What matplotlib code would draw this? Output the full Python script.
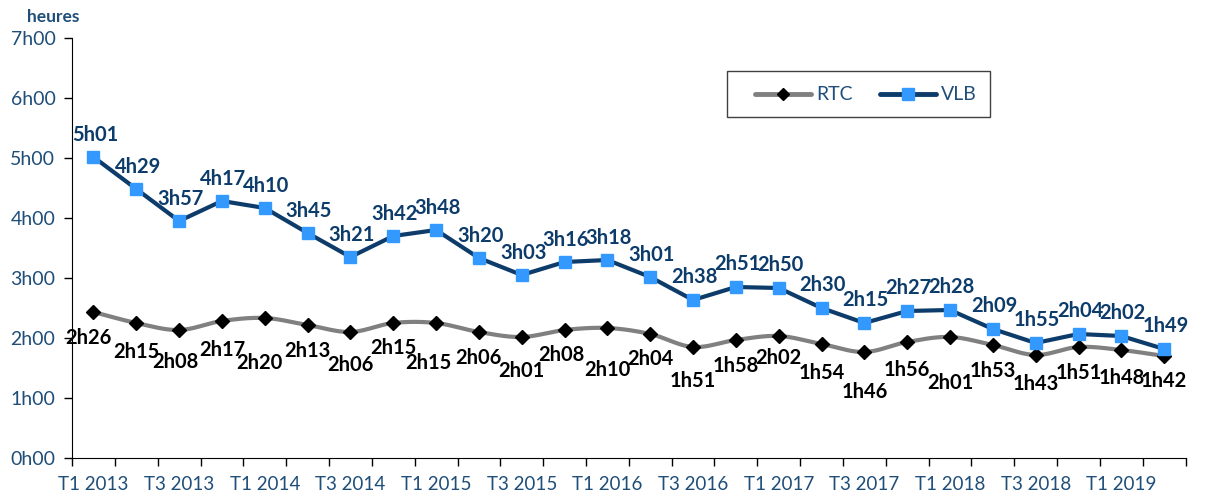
import numpy as np
import matplotlib
matplotlib.use("Agg")
import matplotlib.pyplot as plt
from matplotlib.lines import Line2D
from matplotlib.patches import Rectangle

plt.rcParams['font.family'] = ['Lato', 'DejaVu Sans']

# quarters T1 2013 .. T2 2019
quarters = [f"T{q} {y}" for y in range(2013, 2020) for q in range(1, 5)][:26]
tick_labels = [q if q.startswith(("T1", "T3")) else "" for q in quarters]

rtc = ["2h26", "2h15", "2h08", "2h17", "2h20", "2h13", "2h06", "2h15", "2h15",
       "2h06", "2h01", "2h08", "2h10", "2h04", "1h51", "1h58", "2h02", "1h54",
       "1h46", "1h56", "2h01", "1h53", "1h43", "1h51", "1h48", "1h42"]
vlb = ["5h01", "4h29", "3h57", "4h17", "4h10", "3h45", "3h21", "3h42", "3h48",
       "3h20", "3h03", "3h16", "3h18", "3h01", "2h38", "2h51", "2h50", "2h30",
       "2h15", "2h27", "2h28", "2h09", "1h55", "2h04", "2h02", "1h49"]

# label placement for RTC (pixels below the point, as hand-placed in original)
rtc_dy = [26, 29, 32, 29, 45, 26, 33, 25, 40, 26, 34, 25, 42, 25, 34, 26, 22,
          29, 40, 28, 46, 26, 29, 26, 28, 25]
rtc_dx = [-5, 0, -4, 0, -5, 0, 0, 0, -8, 0, 0, -3, 0, 0, 0, 0, 0, 0, 0, 0, 0,
          0, 0, 0, 0, 0]


def to_hours(s):
    h, m = s.split("h")
    return int(h) + int(m) / 60


rtc_h = np.array([to_hours(s) for s in rtc])
vlb_h = np.array([to_hours(s) for s in vlb])
x = np.arange(len(quarters))

NAVY = "#0d3c6b"
BLUE = "#3399ff"
TXT = "#1f4e79"
PT = 0.72  # points per pixel at dpi 100


def smooth(xs, ys, n=20):
    # catmull-rom like Excel "smoothed line"
    px = np.concatenate([[xs[0]], xs, [xs[-1]]])
    py = np.concatenate([[ys[0]], ys, [ys[-1]]])
    ox, oy = [], []
    t = np.linspace(0, 1, n, endpoint=False)
    for i in range(1, len(px) - 2):
        for p, o in ((px, ox), (py, oy)):
            p0, p1, p2, p3 = p[i - 1], p[i], p[i + 1], p[i + 2]
            o.extend(0.5 * ((2 * p1) + (-p0 + p2) * t
                            + (2 * p0 - 5 * p1 + 4 * p2 - p3) * t ** 2
                            + (-p0 + 3 * p1 - 3 * p2 + p3) * t ** 3))
    ox.append(xs[-1])
    oy.append(ys[-1])
    return np.array(ox), np.array(oy)


fig = plt.figure(figsize=(12.11, 4.97), dpi=100)
ax = fig.add_axes([0.0595, 0.0785, 0.9195, 0.845])

sx, sy = smooth(x.astype(float), rtc_h)
ax.plot(sx, sy, color="#808080", lw=3, solid_capstyle="round", zorder=2)
ax.plot(x, rtc_h, ls="none", marker="D", ms=7, color="black", zorder=3)
ax.plot(x, vlb_h, color=NAVY, lw=3, zorder=2)
ax.plot(x, vlb_h, ls="none", marker="s", ms=8.5, color=BLUE, zorder=3)

for xi, yi, s in zip(x, vlb_h, vlb):
    ax.annotate(s, (xi, yi), xytext=(1, 9), textcoords="offset points",
                ha="center", va="bottom", fontsize=14.5, fontweight="bold",
                color=NAVY)
for xi, yi, s, dx, dy in zip(x, rtc_h, rtc, rtc_dx, rtc_dy):
    ax.annotate(s, (xi, yi), xytext=(dx * PT, -dy * PT),
                textcoords="offset points", ha="center", va="center",
                fontsize=14.5, fontweight="bold", color="black")

ax.set_xlim(-0.5, len(quarters) - 0.5)
ax.set_ylim(0, 7)
ax.set_yticks(range(8))
ax.set_yticklabels([f"{h}h00" for h in range(8)], fontsize=14, color=TXT)
ax.set_xticks(x)
ax.set_xticklabels(tick_labels, fontsize=13.5, color=TXT)
ax.set_xticks(np.arange(-0.5, len(quarters)), minor=True)
ax.tick_params(axis="x", which="major", length=0, pad=13)
ax.tick_params(axis="x", which="minor", length=6, direction="out", width=1)
ax.tick_params(axis="y", length=6, width=1, pad=6)
for side in ("top", "right"):
    ax.spines[side].set_visible(False)
for side in ("left", "bottom"):
    ax.spines[side].set_color("black")

fig.text(27 / 1211, 1 - 22 / 497, "heures", fontsize=12.5, fontweight="bold",
         color=TXT)

# legend frame drawn by hand to get the wide padding of the original
fig.patches.append(Rectangle((727 / 1211, 1 - 117 / 497), 263 / 1211,
                             46 / 497, transform=fig.transFigure,
                             fill=False, edgecolor="#404040", lw=1))
handles = [
    Line2D([], [], color="#808080", lw=3.5, marker="D", ms=6,
           mfc="black", mec="black", solid_capstyle="round"),
    Line2D([], [], color=NAVY, lw=3.5, marker="s", ms=8,
           mfc=BLUE, mec=BLUE, solid_capstyle="round"),
]
fig.legend(handles, ["RTC", "VLB"], ncol=2, loc="center left",
           bbox_to_anchor=(755 / 1211, 1 - 95 / 497), frameon=False,
           fontsize=14, handlelength=2.9, handletextpad=0.25,
           columnspacing=1.4, borderpad=0, borderaxespad=0, labelcolor=TXT)

fig.savefig("out.png", dpi=100)
